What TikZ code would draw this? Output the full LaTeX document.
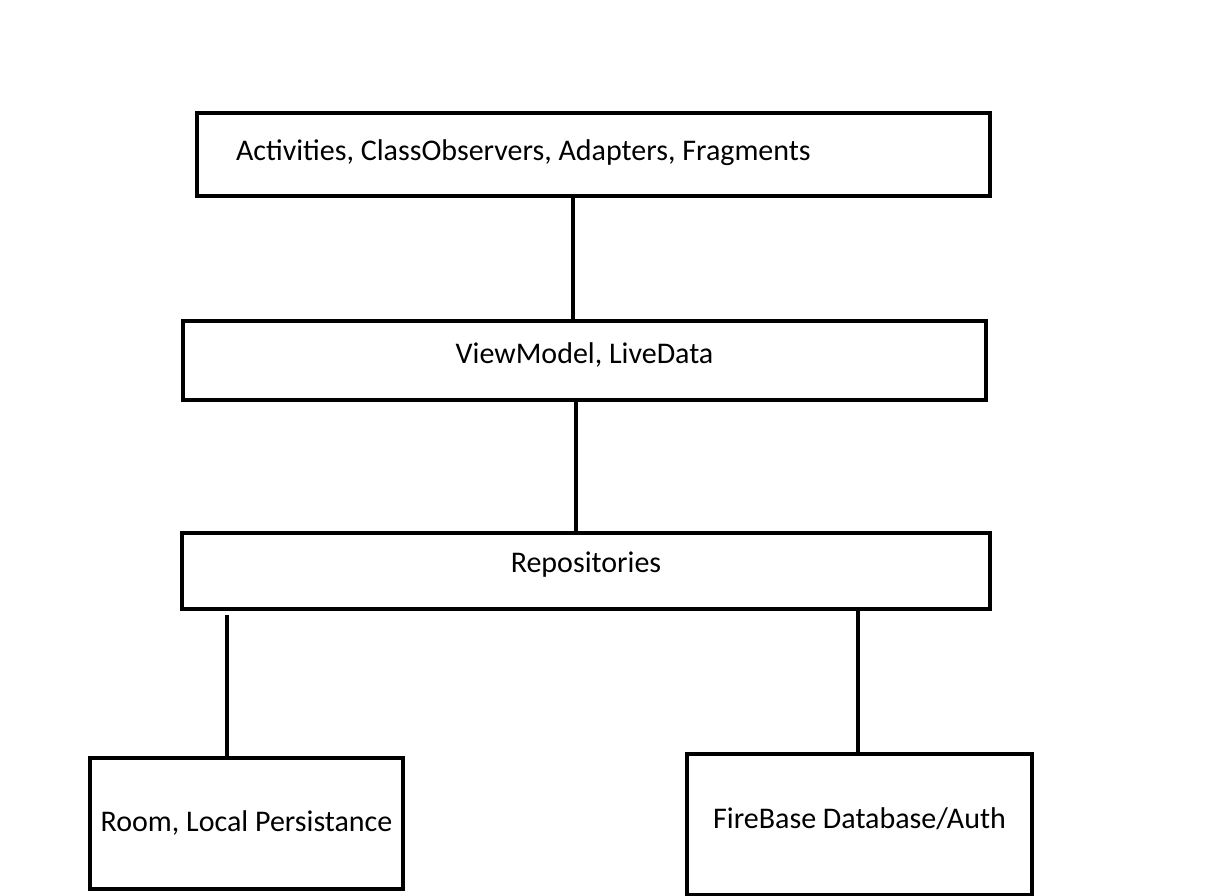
\documentclass[tikz,border=0pt]{standalone}
\usepackage{fontspec}
\setmainfont{Carlito}
\usetikzlibrary{positioning}
\tikzset{layer node/.style={rectangle,draw,line width=4pt,inner sep=0pt,anchor=north west,text height=20pt,font=\fontsize{30}{36}\selectfont},}

\begin{document}
\begin{tikzpicture}[x=1pt, y=-1pt, semithick]
		\useasboundingbox (0,0) rectangle (1222,895);
		\node[layer node, minimum width=793pt, minimum height=83pt, text width=715pt, align=flush left, text depth=8pt] (ui) at (195,111) {Activities, ClassObservers, Adapters, Fragments};
	    \node[layer node, minimum width=803pt, minimum height=79pt, text depth=15pt] (vm) at (181,319) {ViewModel, LiveData};
	    \node[layer node, minimum width=808pt, minimum height=76pt, text depth=18pt] (repo) at (180,531) {Repositories};
	    \node[layer node, minimum width=313pt, minimum height=131pt, text depth=4pt] (room) at (88,756) {Room, Local Persistance};
	    \node[layer node, minimum width=345pt, minimum height=141pt, text depth=13pt] (fire) at (685,752) {FireBase Database/Auth};
	
	    \path[draw, line width=4pt]
	    ([xshift=378pt]ui.south west) edge ([xshift=392pt]vm.north west)
	    ([xshift=395pt]vm.south west) edge ([xshift=396pt]repo.north west)
	    ([xshift=47pt, yshift=-4pt]repo.south west) edge ([xshift=139pt]room.north west)
	    ([xshift=678pt]repo.south west) edge ([xshift=173pt]fire.north west);
	\end{tikzpicture}
\end{document}
